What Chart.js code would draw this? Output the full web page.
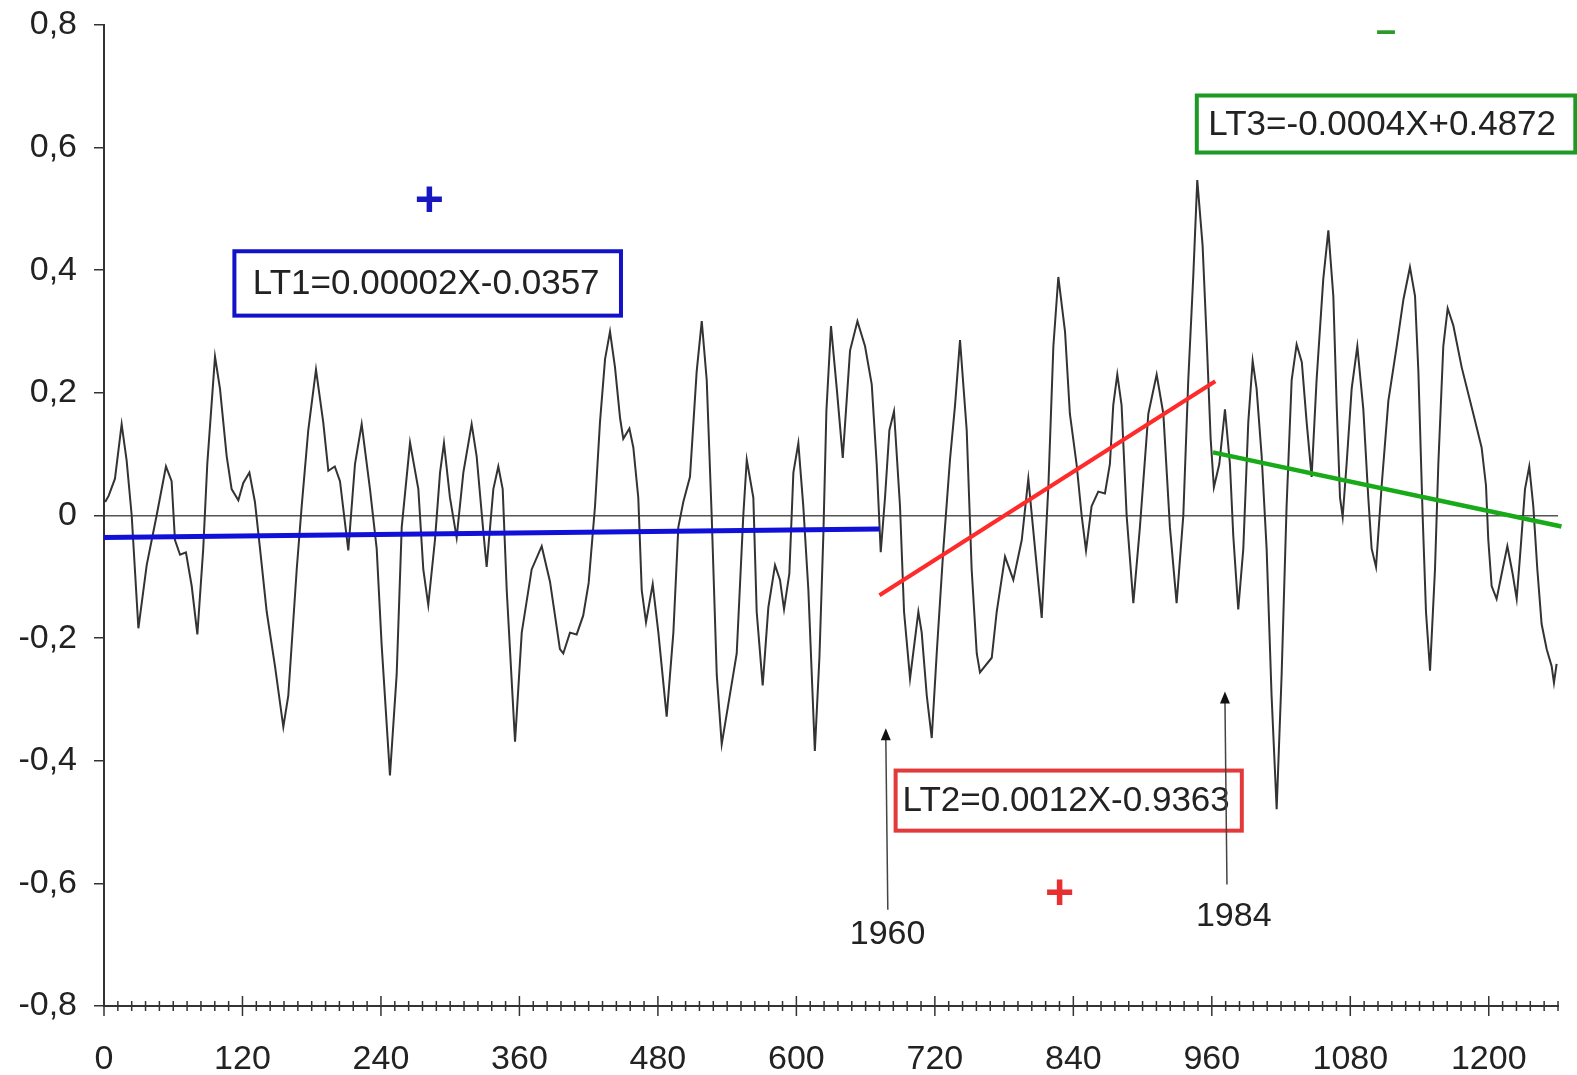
<!DOCTYPE html>
<html>
<head>
<meta charset="utf-8">
<script src="https://cdn.jsdelivr.net/npm/chart.js@4.4.1/dist/chart.umd.min.js"></script>
<style>
  html, body { margin: 0; padding: 0; background: #fff; }
  #chart { display: block; }
</style>
</head>
<body>
<canvas id="chart" width="1577" height="1075"></canvas>
<script>
// month index (x) and anomaly (y) at turning points
const monthX = [
  1, 4, 9.5, 15.3, 19.6, 24, 29.8, 37, 45.6, 53.7, 58.6, 61.5, 65.9, 71, 76, 80.9, 86, 89.5, 96.2, 100.5,
  106.3, 110.6, 116.4, 120.7, 126, 130.8, 135.2, 141, 148.2, 155.4, 159.7, 167, 171.3, 177, 183.7, 190,
  194.4, 200, 204.5, 211.7, 217.5, 223.3, 230.5, 236.3, 240.6, 247.8, 253.6, 258, 265.2, 272.4, 276.7, 281,
  286.8, 291.2, 294.6, 299.8, 305.6, 311.4, 318.6, 322.9, 328.7, 331.6, 337.4, 341.7, 345.5, 349, 356.2, 362,
  370.6, 379.3, 386.5, 395.1, 398, 403.8, 409.6, 415.3, 420, 425.5, 429.8, 434.2, 438.5, 442.8, 447.2, 450,
  455.3, 458.7, 463, 466, 469.7, 475.5, 480.4, 487.6, 493.4, 497.7, 502, 507.8, 513.6, 518, 522.3, 526.6,
  531, 535.3, 541, 548.3, 554, 557, 562.7, 565.6, 570.8, 575.7, 581.5, 585.8, 589.3, 593.9, 597.4, 601.7,
  606, 610.4, 616, 620, 623.4, 626, 630, 635, 640.2, 646.5, 652.9, 659.5, 665.3, 669.6, 673.1, 676.8,
  680.6, 684.6, 689.8, 693.3, 698.5, 705.7, 708.6, 713, 717.3, 721.6, 727.4, 733.1, 737.5, 741.8, 747.6, 751.9,
  756.3, 759.1, 769.3, 773.6, 780.8, 788, 795.3, 801, 806.8, 812.6, 818.4, 822.7, 827, 832.8, 837, 842.8,
  847.2, 851, 855.8, 861.6, 867.4, 871.7, 874.6, 878.1, 881.8, 886.2, 892, 897.7, 905, 912.2, 918, 923.7,
  929.5, 935.3, 939.6, 944, 947.4, 952, 955.5, 959, 961.8, 966.5, 971.4, 975.7, 978.6, 982.9, 987.3, 991.6,
  995.4, 998.8, 1003.2, 1007.5, 1011.8, 1016.2, 1020.5, 1024.8, 1029.2, 1033.5, 1038, 1042.2, 1046.5, 1050.8, 1056.6, 1061,
  1065.3, 1068.2, 1071.1, 1073.4, 1076.8, 1081.2, 1086.1, 1091.3, 1095.6, 1098.5, 1102.3, 1107.2, 1113, 1120.2, 1126, 1131.7,
  1136.1, 1139, 1142.7, 1145.6, 1149.1, 1153.4, 1156.3, 1160.6, 1164.4, 1169.3, 1176.5, 1186.6, 1193.8, 1197.6, 1199.6, 1202.5,
  1206.8, 1211.2, 1216.1, 1220.7, 1224.2, 1227.6, 1231.4, 1235.1, 1238.6, 1242.1, 1245.8, 1250.2, 1254.5, 1256.5, 1258.8
];
const anomaly = [
  0.022, 0.032, 0.06, 0.149, 0.09, 0, -0.184, -0.081, 0, 0.08, 0.056, -0.04, -0.064, -0.06, -0.115, -0.194, -0.054, 0.084, 0.259, 0.207,
  0.097, 0.043, 0.025, 0.053, 0.07, 0.022, -0.054, -0.157, -0.246, -0.345, -0.294, -0.088, 0.015, 0.139, 0.238, 0.152,
  0.073, 0.08, 0.056, -0.057, 0.084, 0.149, 0.043, -0.054, -0.211, -0.424, -0.26, -0.019, 0.119, 0.043, -0.088, -0.146,
  -0.04, 0.07, 0.118, 0.029, -0.036, 0.07, 0.149, 0.097, -0.026, -0.084, 0.043, 0.08, 0.043, -0.122, -0.369, -0.191,
  -0.088, -0.05, -0.108, -0.218, -0.225, -0.191, -0.194, -0.163, -0.11, 0.015, 0.152, 0.255, 0.3, 0.242, 0.159, 0.125,
  0.142, 0.111, 0.029, -0.122, -0.174, -0.112, -0.191, -0.328, -0.191, -0.019, 0.022, 0.063, 0.235, 0.317, 0.221, 0,
  -0.26, -0.373, -0.308, -0.225, 0, 0.091, 0.029, -0.157, -0.277, -0.15, -0.081, -0.105, -0.153, -0.095, 0.07, 0.118,
  0.015, -0.122, -0.384, -0.23, -0.03, 0.17, 0.309, 0.207, 0.094, 0.269, 0.317, 0.276, 0.214, 0.084, -0.06, 0.029,
  0.139, 0.17, 0.015, -0.157, -0.266, -0.157, -0.191, -0.294, -0.363, -0.225, -0.054, 0.091, 0.18, 0.286, 0.139, -0.088,
  -0.225, -0.256, -0.232, -0.157, -0.067, -0.105, -0.04, 0.06, -0.054, -0.167, 0.049, 0.276, 0.389, 0.3, 0.166, 0.084,
  0, -0.057, 0.015, 0.039, 0.036, 0.084, 0.18, 0.23, 0.18, 0, -0.143, -0.019, 0.166, 0.23, 0.166, -0.019,
  -0.143, 0, 0.221, 0.393, 0.547, 0.441, 0.29, 0.125, 0.046, 0.084, 0.173, 0.084, -0.033, -0.153, -0.054, 0.152,
  0.252, 0.207, 0.097, -0.054, -0.294, -0.479, -0.26, 0.015, 0.221, 0.279, 0.25, 0.152, 0.063, 0.221, 0.386, 0.465,
  0.358, 0.18, 0.029, -0.002, 0.084, 0.207, 0.276, 0.173, 0.029, -0.054, -0.084, 0.049, 0.187, 0.276, 0.352, 0.405,
  0.358, 0.235, 0, -0.157, -0.253, -0.088, 0.084, 0.276, 0.338, 0.31, 0.242, 0.166, 0.111, 0.049, -0.04, -0.115,
  -0.136, -0.095, -0.05, -0.095, -0.136, -0.054, 0.043, 0.08, 0.015, -0.088, -0.177, -0.218, -0.246, -0.273, -0.242
];

// trend segments: [x, y] end points
const lt1Ends = [[0, -0.0357], [672, -0.022]];
const lt2Ends = [[672, -0.130], [963, 0.219]];
const lt3Ends = [[961, 0.103], [1263, -0.018]];

// axis ticks
const xMajor = [0, 120, 240, 360, 480, 600, 720, 840, 960, 1080, 1200];
const xMinorStep = 12;
const xMax = 1260;
const yTicks = [-0.8, -0.6, -0.4, -0.2, 0, 0.2, 0.4, 0.6, 0.8];

const FONT = "'Liberation Sans', Arial, sans-serif";
Chart.defaults.font.family = FONT;

const toPts = (xs, ys) => xs.map((x, i) => ({ x: x, y: ys[i] }));
const endPts = ends => ends.map(p => ({ x: p[0], y: p[1] }));

// annotations placed in data coordinates
const boxes = [
  { text: 'LT1=0.00002X-0.0357', x0: 113, x1: 448, y0: 0.431, y1: 0.326, tx: 129, color: '#1212c8' },
  { text: 'LT2=0.0012X-0.9363', x0: 686, x1: 986, y0: -0.416, y1: -0.514, tx: 692, color: '#e23a3a' },
  { text: 'LT3=-0.0004X+0.4872', x0: 947, x1: 1275, y0: 0.685, y1: 0.592, tx: 957, color: '#1c9a24' }
];
const signs = [
  { text: '+', x: 282, y: 0.511, color: '#1818c0', font: 'bold 50px ' + FONT },
  { text: '+', x: 828, y: -0.62, color: '#e83030', font: 'bold 50px ' + FONT },
  { text: '\u2013', x: 1111, y: 0.788, color: '#2a9a2a', font: 'bold 36px ' + FONT }
];
const arrows = [
  { label: '1960', x: 677.5, yTop: -0.347, yBot: -0.643, lx: 679, ly: -0.684 },
  { label: '1984', x: 971.4, yTop: -0.287, yBot: -0.602, lx: 979, ly: -0.654 }
];

const notesPlugin = {
  id: 'notes',
  afterDraw(chart) {
    const ctx = chart.ctx;
    const xs = chart.scales.x, ys = chart.scales.y;
    ctx.save();

    // x axis tick marks, crossing the axis line
    const axisY = ys.getPixelForValue(-0.8);
    ctx.strokeStyle = '#333';
    ctx.lineWidth = 1.5;
    for (let v = 0; v <= xMax; v += xMinorStep) {
      const px = xs.getPixelForValue(v);
      const major = xMajor.includes(v);
      ctx.beginPath();
      ctx.moveTo(px, axisY - (major ? 10 : 5));
      ctx.lineTo(px, axisY + (major ? 10 : 5));
      ctx.stroke();
    }

    // equation boxes
    boxes.forEach(b => {
      const l = xs.getPixelForValue(b.x0), r = xs.getPixelForValue(b.x1);
      const t = ys.getPixelForValue(b.y0), btm = ys.getPixelForValue(b.y1);
      ctx.fillStyle = '#fff';
      ctx.fillRect(l, t, r - l, btm - t);
      ctx.strokeStyle = b.color;
      ctx.lineWidth = 4;
      ctx.strokeRect(l, t, r - l, btm - t);
      ctx.fillStyle = '#222';
      ctx.font = '35px ' + FONT;
      ctx.textAlign = 'left';
      ctx.textBaseline = 'middle';
      ctx.fillText(b.text, xs.getPixelForValue(b.tx), (t + btm) / 2 + 1);
    });

    // plus / minus signs
    signs.forEach(s => {
      ctx.fillStyle = s.color;
      ctx.font = s.font;
      ctx.textAlign = 'center';
      ctx.textBaseline = 'middle';
      ctx.fillText(s.text, xs.getPixelForValue(s.x), ys.getPixelForValue(s.y));
    });

    // year arrows
    arrows.forEach(a => {
      const px = xs.getPixelForValue(a.x);
      const top = ys.getPixelForValue(a.yTop), bot = ys.getPixelForValue(a.yBot);
      ctx.strokeStyle = '#444';
      ctx.lineWidth = 1.5;
      ctx.beginPath();
      ctx.moveTo(px + 2, bot);
      ctx.lineTo(px, top + 10);
      ctx.stroke();
      ctx.fillStyle = '#111';
      ctx.beginPath();
      ctx.moveTo(px, top);
      ctx.lineTo(px - 5, top + 12);
      ctx.lineTo(px + 5, top + 12);
      ctx.closePath();
      ctx.fill();
      ctx.fillStyle = '#222';
      ctx.font = '34px ' + FONT;
      ctx.textAlign = 'center';
      ctx.textBaseline = 'middle';
      ctx.fillText(a.label, xs.getPixelForValue(a.lx), ys.getPixelForValue(a.ly));
    });
    ctx.restore();
  }
};

new Chart(document.getElementById('chart'), {
  type: 'line',
  data: {
    datasets: [
      { data: toPts(monthX, anomaly), borderColor: '#333', borderWidth: 2, pointRadius: 0, tension: 0, order: 2 },
      { data: endPts(lt1Ends), borderColor: '#1010d8', borderWidth: 5, pointRadius: 0, order: 1 },
      { data: endPts(lt2Ends), borderColor: '#ff2a2a', borderWidth: 4, pointRadius: 0, order: 1 },
      { data: endPts(lt3Ends), borderColor: '#18aa18', borderWidth: 4.5, pointRadius: 0, order: 1, clip: false }
    ]
  },
  options: {
    responsive: false,
    devicePixelRatio: 1,
    animation: false,
    layout: { padding: { left: 0, right: 19, top: 25, bottom: 0 } },
    plugins: { legend: { display: false }, tooltip: { enabled: false } },
    scales: {
      x: {
        type: 'linear',
        min: 0,
        max: xMax,
        afterBuildTicks: s => { s.ticks = xMajor.map(v => ({ value: v })); },
        afterFit: s => { s.height = 69; s.paddingLeft = 0; s.paddingRight = 0; },
        grid: { display: false },
        border: { display: true, color: '#333', width: 2 },
        ticks: {
          autoSkip: false,
          maxRotation: 0,
          minRotation: 0,
          padding: 25,
          color: '#222',
          font: { size: 34 },
          callback: v => String(v)
        }
      },
      y: {
        min: -0.8,
        max: 0.8,
        afterBuildTicks: s => { s.ticks = yTicks.map(v => ({ value: v })); },
        afterFit: s => { s.width = 104; s.paddingTop = 0; s.paddingBottom = 0; },
        grid: {
          color: c => (c.tick && c.tick.value === 0 ? '#555' : 'rgba(0,0,0,0)'),
          lineWidth: 1.5,
          tickColor: '#333',
          tickLength: 10
        },
        border: { display: true, color: '#333', width: 2 },
        ticks: {
          padding: 17,
          color: '#222',
          font: { size: 34 },
          callback: v => (v === 0 ? '0' : v.toFixed(1).replace('.', ','))
        }
      }
    }
  },
  plugins: [notesPlugin]
});
</script>
</body>
</html>
